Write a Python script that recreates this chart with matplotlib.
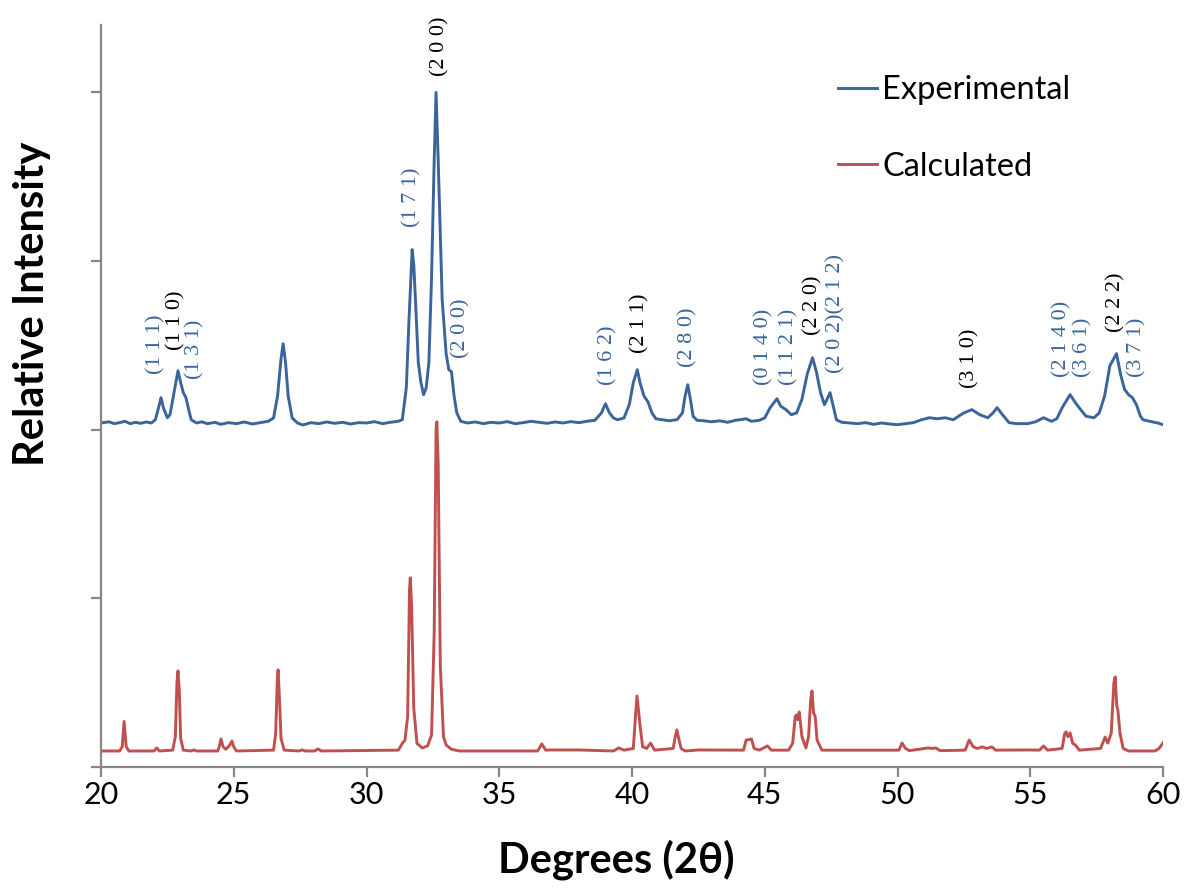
import numpy as np
import matplotlib
matplotlib.use("Agg")
import matplotlib.pyplot as plt

# ==================================================
# Data (2theta in degrees, relative intensity)
# ==================================================
exp_theta = [
    20.0, 20.3, 20.5, 20.7, 20.9, 21.1, 21.3, 21.5, 21.7, 21.9,
    22.05, 22.15, 22.26, 22.35, 22.5, 22.6, 22.75, 22.9, 23.0, 23.1,
    23.2, 23.3, 23.4, 23.6, 23.8, 24.0, 24.3, 24.5, 24.8, 25.1,
    25.4, 25.7, 26.0, 26.3, 26.5, 26.65, 26.78, 26.86, 26.95, 27.05,
    27.2, 27.4, 27.6, 27.9, 28.2, 28.5, 28.8, 29.1, 29.4, 29.7,
    30.0, 30.3, 30.6, 30.9, 31.2, 31.35, 31.5, 31.6, 31.72, 31.78,
    31.85, 31.95, 32.05, 32.15, 32.25, 32.35, 32.45, 32.55, 32.62, 32.7,
    32.85, 33.0, 33.1, 33.2, 33.3, 33.4, 33.55, 33.8, 34.1, 34.4,
    34.7, 35.0, 35.3, 35.6, 35.9, 36.2, 36.5, 36.8, 37.1, 37.4,
    37.7, 38.0, 38.3, 38.6, 38.85, 39.0, 39.15, 39.3, 39.45, 39.7,
    39.9, 40.05, 40.2, 40.3, 40.45, 40.6, 40.75, 40.9, 41.1, 41.4,
    41.7, 41.9, 42.0, 42.1, 42.2, 42.3, 42.45, 42.7, 43.0, 43.3,
    43.6, 43.9, 44.1, 44.3, 44.5, 44.8, 45.0, 45.2, 45.46, 45.6,
    45.8, 46.0, 46.2, 46.4, 46.6, 46.8, 46.95, 47.1, 47.25, 47.46,
    47.55, 47.7, 47.9, 48.2, 48.5, 48.8, 49.1, 49.4, 49.7, 50.0,
    50.3, 50.6, 50.9, 51.2, 51.5, 51.8, 52.1, 52.3, 52.5, 52.8,
    53.1, 53.4, 53.6, 53.75, 53.9, 54.2, 54.5, 54.9, 55.2, 55.5,
    55.8, 56.0, 56.2, 56.5, 56.7, 56.9, 57.1, 57.4, 57.6, 57.8,
    58.0, 58.25, 58.4, 58.55, 58.7, 58.85, 59.0, 59.15, 59.25, 59.5,
    59.8, 60.0,
]
exp_intensity = [
    2.040, 2.047, 2.036, 2.042, 2.050, 2.036, 2.044, 2.038, 2.046, 2.040,
    2.060, 2.120, 2.190, 2.130, 2.071, 2.090, 2.220, 2.350, 2.280, 2.220,
    2.190, 2.120, 2.059, 2.040, 2.047, 2.036, 2.044, 2.032, 2.042, 2.036,
    2.046, 2.034, 2.042, 2.050, 2.070, 2.200, 2.420, 2.510, 2.400, 2.200,
    2.070, 2.040, 2.028, 2.042, 2.036, 2.046, 2.038, 2.044, 2.034, 2.042,
    2.040, 2.048, 2.036, 2.044, 2.050, 2.060, 2.250, 2.650, 3.068, 2.980,
    2.750, 2.400, 2.280, 2.208, 2.250, 2.400, 2.900, 3.600, 4.000, 3.600,
    2.772, 2.450, 2.356, 2.344, 2.200, 2.101, 2.050, 2.040, 2.046, 2.036,
    2.044, 2.040, 2.048, 2.036, 2.042, 2.050, 2.044, 2.038, 2.046, 2.040,
    2.048, 2.042, 2.050, 2.056, 2.100, 2.154, 2.100, 2.070, 2.059, 2.070,
    2.150, 2.280, 2.356, 2.280, 2.200, 2.166, 2.100, 2.065, 2.060, 2.053,
    2.060, 2.100, 2.200, 2.267, 2.180, 2.080, 2.056, 2.053, 2.047, 2.053,
    2.044, 2.056, 2.060, 2.065, 2.050, 2.056, 2.070, 2.130, 2.184, 2.140,
    2.119, 2.089, 2.100, 2.180, 2.330, 2.427, 2.340, 2.220, 2.148, 2.220,
    2.160, 2.059, 2.044, 2.040, 2.036, 2.042, 2.032, 2.040, 2.034, 2.030,
    2.036, 2.042, 2.059, 2.071, 2.065, 2.071, 2.059, 2.080, 2.100, 2.119,
    2.089, 2.071, 2.100, 2.131, 2.100, 2.042, 2.036, 2.036, 2.047, 2.071,
    2.050, 2.065, 2.130, 2.208, 2.160, 2.119, 2.080, 2.071, 2.100, 2.200,
    2.380, 2.451, 2.330, 2.240, 2.208, 2.190, 2.148, 2.080, 2.059, 2.050,
    2.040, 2.030,
]

calc_theta = [
    20.0, 20.7, 20.8, 20.87, 20.95, 21.05, 22.0, 22.1, 22.2, 22.7,
    22.8, 22.86, 22.9, 22.95, 23.0, 23.1, 23.4, 23.5, 23.6, 24.4,
    24.47, 24.52, 24.6, 24.7, 24.85, 24.93, 25.0, 25.1, 26.5, 26.58,
    26.64, 26.67, 26.71, 26.78, 26.9, 27.45, 27.57, 27.7, 28.05, 28.17,
    28.3, 31.2, 31.35, 31.45, 31.55, 31.62, 31.65, 31.7, 31.78, 31.9,
    32.1, 32.3, 32.45, 32.55, 32.62, 32.65, 32.7, 32.78, 32.9, 33.0,
    33.2, 33.5, 36.45, 36.6, 36.75, 37.0, 38.0, 39.3, 39.5, 39.7,
    40.05, 40.13, 40.19, 40.25, 40.3, 40.4, 40.55, 40.7, 40.85, 41.55,
    41.63, 41.69, 41.76, 41.85, 42.0, 42.5, 44.2, 44.3, 44.4, 44.5,
    44.6, 44.8, 45.1, 45.25, 45.9, 46.05, 46.15, 46.2, 46.25, 46.3,
    46.4, 46.55, 46.65, 46.73, 46.78, 46.84, 46.9, 46.97, 47.15, 48.1,
    50.05, 50.17, 50.3, 50.45, 51.15, 51.3, 51.45, 51.6, 52.55, 52.7,
    52.85, 53.0, 53.2, 53.35, 53.55, 53.7, 54.9, 55.35, 55.5, 55.65,
    56.2, 56.3, 56.35, 56.42, 56.5, 56.6, 56.7, 56.85, 57.65, 57.82,
    57.92, 58.05, 58.15, 58.2, 58.26, 58.3, 58.38, 58.5, 58.7, 59.7,
    59.85, 60.0,
]
calc_intensity = [
    0.095, 0.095, 0.120, 0.270, 0.120, 0.095, 0.095, 0.113, 0.095, 0.100,
    0.180, 0.500, 0.570, 0.450, 0.170, 0.100, 0.095, 0.101, 0.095, 0.095,
    0.130, 0.166, 0.120, 0.105, 0.130, 0.154, 0.120, 0.095, 0.100, 0.200,
    0.520, 0.576, 0.450, 0.170, 0.100, 0.095, 0.101, 0.095, 0.095, 0.107,
    0.095, 0.100, 0.140, 0.160, 0.300, 1.050, 1.122, 0.950, 0.350, 0.140,
    0.113, 0.125, 0.190, 0.800, 2.000, 2.047, 1.800, 0.600, 0.180, 0.130,
    0.105, 0.095, 0.095, 0.137, 0.100, 0.101, 0.101, 0.095, 0.113, 0.100,
    0.110, 0.300, 0.421, 0.330, 0.250, 0.120, 0.110, 0.142, 0.100, 0.110,
    0.180, 0.220, 0.170, 0.110, 0.095, 0.101, 0.100, 0.160, 0.162, 0.166,
    0.110, 0.100, 0.125, 0.100, 0.100, 0.140, 0.300, 0.309, 0.280, 0.326,
    0.180, 0.113, 0.180, 0.400, 0.451, 0.320, 0.300, 0.160, 0.100, 0.100,
    0.100, 0.142, 0.110, 0.097, 0.113, 0.110, 0.113, 0.097, 0.100, 0.160,
    0.120, 0.110, 0.119, 0.110, 0.119, 0.100, 0.101, 0.100, 0.125, 0.100,
    0.110, 0.200, 0.208, 0.180, 0.202, 0.140, 0.130, 0.100, 0.110, 0.178,
    0.142, 0.200, 0.500, 0.534, 0.360, 0.338, 0.200, 0.110, 0.095, 0.095,
    0.110, 0.142,
]

# Miller index labels: text, 2theta position, bottom of label, colour group
label_text = [
    "(1 1 1)", "(1 1 0)", "(1 3 1)", "(1 7 1)", "(2 0 0)", "(2 0 0)",
    "(1 6 2)", "(2 1 1)", "(2 8 0)", "(0 1 4 0)", "(1 1 2 1)", "(2 2 0)",
    "(2 0 2)(2 1 2)", "(3 1 0)", "(2 1 4 0)", "(3 6 1)", "(2 2 2)", "(3 7 1)",
]
label_theta = [
    22.07, 22.83, 23.54, 31.71, 32.77, 33.56,
    39.10, 40.30, 42.11, 44.97, 45.91, 46.82,
    47.68, 52.73, 56.19, 56.99, 58.23, 59.02,
]
label_y = [
    2.33, 2.475, 2.30, 3.20, 4.095, 2.427,
    2.267, 2.457, 2.374, 2.267, 2.267, 2.564,
    2.338, 2.249, 2.315, 2.315, 2.582, 2.315,
]
label_group = [
    "exp", "calc", "exp", "exp", "calc", "exp",
    "exp", "calc", "exp", "exp", "exp", "calc",
    "exp", "calc", "exp", "exp", "calc", "exp",
]

BLUE = "#3a659b"
RED = "#c0504d"
GREY = "#868686"
FONT = ["Lato", "DejaVu Sans"]


def main():
    plt.rcParams["font.family"] = FONT

    fig = plt.figure(figsize=(11.88, 8.92), dpi=100)
    ax = fig.add_axes([101 / 1188, 1 - 767 / 892, 1062 / 1188, 742 / 892])

    ax.plot(exp_theta, exp_intensity, color=BLUE, lw=2.1, label="Experimental")
    ax.plot(calc_theta, calc_intensity, color=RED, lw=2.1, label="Calculated")

    for txt, xv, yv, grp in zip(label_text, label_theta, label_y, label_group):
        ax.text(
            xv, yv, txt,
            rotation=90, ha="center", va="bottom",
            color=BLUE if grp == "exp" else "black",
            fontsize=16, family=["Liberation Serif", "DejaVu Serif"],
        )

    # Axes styling
    ax.set_xlim(20, 60)
    ax.set_ylim(0, 4.4)
    ax.set_xticks(np.arange(20, 61, 5))
    ax.set_yticks(np.arange(0, 5, 1))
    ax.set_yticklabels([])
    for side in ["top", "right"]:
        ax.spines[side].set_visible(False)
    for side in ["left", "bottom"]:
        ax.spines[side].set_color(GREY)
        ax.spines[side].set_linewidth(1.6)
    ax.tick_params(axis="both", colors=GREY, width=1.6, length=7, direction="out")
    ax.tick_params(axis="x", labelcolor="black", labelsize=22, pad=3)

    fig.text(616 / 1188, 1 - 860 / 892, "Degrees (2\u03b8)", ha="center", va="center",
             fontsize=30, fontweight="bold")
    fig.text(32 / 1188, 1 - 304 / 892, "Relative Intensity", ha="center", va="center",
             rotation=90, fontsize=30, fontweight="bold")

    ax.legend(
        loc="upper left",
        bbox_to_anchor=(838 / 1188, 1 - 75 / 892),
        bbox_transform=fig.transFigure,
        frameon=False,
        fontsize=23.5,
        handlelength=1.2,
        handletextpad=0.15,
        labelspacing=1.43,
        borderpad=0,
        borderaxespad=0,
    )

    fig.savefig("out.png", dpi=100)


if __name__ == "__main__":
    main()
